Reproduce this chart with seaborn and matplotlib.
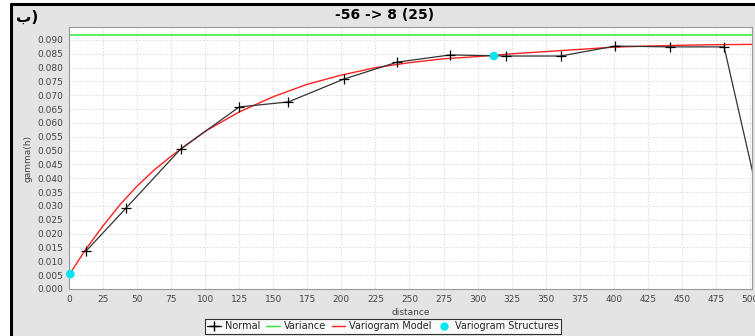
import matplotlib
matplotlib.use("Agg")
import matplotlib.pyplot as plt
import seaborn as sns
import pandas as pd
from matplotlib.patches import Rectangle
from matplotlib.lines import Line2D

# ---- data ----
normal_dist = [12.5, 42, 82, 125, 161, 202, 241, 280, 321, 361, 401, 441, 481, 510]
normal_gamma = [0.0137, 0.0293, 0.0506, 0.0658, 0.0676, 0.0759, 0.0820, 0.0846,
                0.0842, 0.0842, 0.0878, 0.0875, 0.0875, 0.0250]
model_dist = [0, 12.5, 25, 37.5, 50, 62.5, 75, 100, 125, 150, 175, 200, 225, 250,
              275, 300, 325, 350, 375, 400, 425, 450, 475, 500, 505]
model_gamma = [0.0050, 0.0145, 0.0228, 0.0305, 0.0372, 0.0430, 0.0480, 0.0570,
               0.0640, 0.0695, 0.0740, 0.0773, 0.0800, 0.0818, 0.0832, 0.0840,
               0.0850, 0.0858, 0.0866, 0.0874, 0.0878, 0.0881, 0.0883, 0.0884,
               0.0884]
variance = 0.0918
struct_dist = [1, 312]
struct_gamma = [0.0054, 0.0842]
title = "-56 -> 8 (25)"
xticks = list(range(0, 501, 25))
yticks = [i * 0.005 for i in range(19)]

sns.set_style("whitegrid")
plt.rcParams['font.family'] = ['DejaVu Sans']

W, H = 755, 336
fig = plt.figure(figsize=(W / 100, H / 100), dpi=100, facecolor="white")
# grey panel with thick black top/left border
fig.patches.append(Rectangle((11 / W, 0), 1, 1 - 4 / H, transform=fig.transFigure,
                             facecolor="#e4e4e4", edgecolor="none", zorder=-10))
fig.lines.append(Line2D([11 / W, 1], [1 - 4 / H, 1 - 4 / H], transform=fig.transFigure,
                        color="black", lw=2.2, zorder=-5))
fig.lines.append(Line2D([11 / W, 11 / W], [0, 1 - 4 / H], transform=fig.transFigure,
                        color="black", lw=2.2, zorder=-5))

ax = fig.add_axes([69 / W, (336 - 289) / H, (752 - 69) / W, (289 - 27) / H])
ax.set_zorder(1)
ax.set_facecolor("white")

df_n = pd.DataFrame({"distance": normal_dist, "gamma": normal_gamma})
df_m = pd.DataFrame({"distance": model_dist, "gamma": model_gamma})
df_s = pd.DataFrame({"distance": struct_dist, "gamma": struct_gamma})

ax.axhline(variance, color="#33e833", lw=1.1, zorder=2)
sns.lineplot(data=df_m, x="distance", y="gamma", ax=ax, color="#ff2020", lw=1.0,
             sort=False, zorder=3)
sns.lineplot(data=df_n, x="distance", y="gamma", ax=ax, color="#333333", lw=0.9,
             marker="+", markersize=6.5, markeredgewidth=0.9, markeredgecolor="black",
             sort=False, zorder=4)
sns.scatterplot(data=df_s, x="distance", y="gamma", ax=ax, color="#00e5f0",
                s=38, edgecolor="none", zorder=5, clip_on=False)

ax.set_xlim(0, 501.5)
ax.set_ylim(0, (289 - 27) / 2767)
ax.set_xticks(xticks)
ax.set_yticks(yticks)
ax.set_yticklabels([f"{v:.3f}" for v in yticks])
ax.tick_params(axis="both", labelsize=6.5, length=2.5, width=0.6,
               direction="out", pad=2, colors="#888888", labelcolor="#444444")
ax.grid(True, color="#d8d8d8", ls=(0, (2, 2)), lw=0.6)
for s in ax.spines.values():
    s.set_color("#999999")
    s.set_linewidth(0.8)
ax.set_xlabel("distance", fontsize=6.5, color="#444444", labelpad=3)
ax.set_ylabel("gamma(h)", fontsize=6.5, color="#444444", labelpad=3)

fig.text(385 / W, 1 - 15 / H, title, ha="center", va="center", fontsize=10,
         fontweight="bold", color="black")
fig.text(16 / W, 1 - 17 / H, "ب)", ha="left", va="center", fontsize=11,
         fontweight="bold", color="black")

handles = [
    Line2D([], [], color="black", marker="+", lw=0.9, markersize=7),
    Line2D([], [], color="#33e833", lw=1.0),
    Line2D([], [], color="#ff2020", lw=1.0),
    Line2D([], [], color="#00e5f0", marker="o", lw=0, markersize=5),
]
labels = ["Normal", "Variance", "Variogram Model", "Variogram Structures"]
leg = fig.legend(handles, labels, loc="upper center",
                 bbox_to_anchor=(383 / W, 1 - 319 / H), ncol=4, fontsize=7,
                 frameon=True, fancybox=False, edgecolor="black",
                 handlelength=1.4, handletextpad=0.4, columnspacing=0.6,
                 borderpad=0.25, borderaxespad=0)
leg.get_frame().set_linewidth(0.8)
leg.get_frame().set_facecolor("white")

fig.savefig("out.png", dpi=100, facecolor=fig.get_facecolor())
